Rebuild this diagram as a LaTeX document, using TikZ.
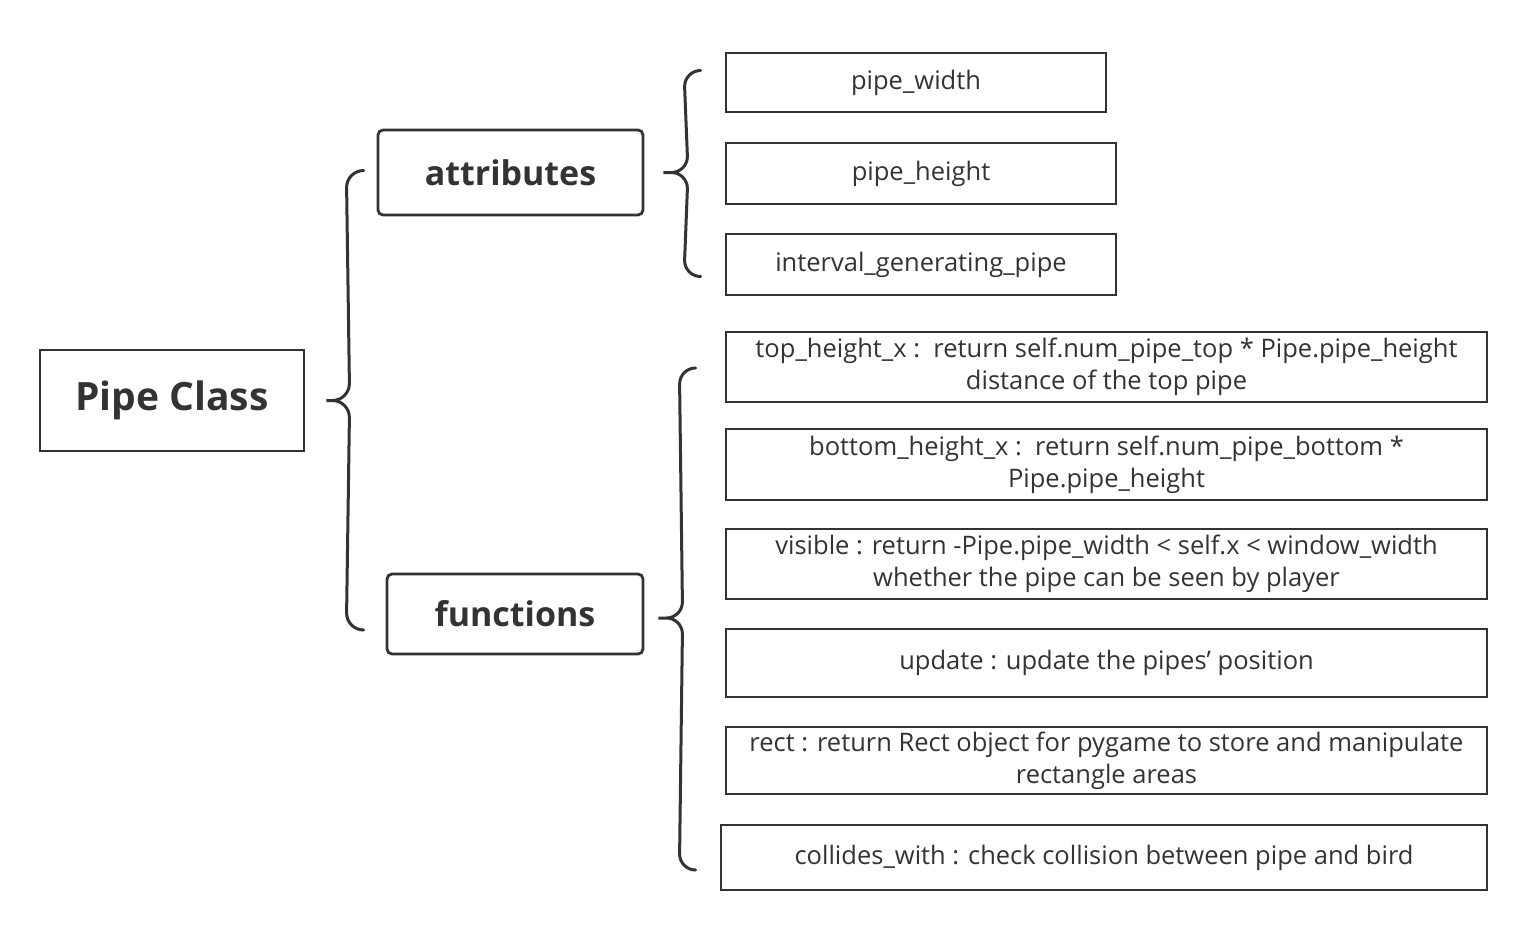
\documentclass[tikz,border=0pt]{standalone}
\usepackage{fontspec}
\setmainfont{Open Sans}
\usetikzlibrary{calc}
\definecolor{ink}{HTML}{333333}
\tikzset{
  leaf/.style={draw=ink, line width=2.8pt, text=ink, align=center, inner sep=0pt,
    font=\fontsize{25.5}{32}\selectfont},
  head/.style={draw=ink, line width=2.8pt, text=ink, inner sep=0pt, rounded corners=5pt,
    font=\fontsize{34}{40}\selectfont\bfseries},
  brace/.style={draw=ink, line width=3pt, line cap=round}
}
\begin{document}
\begin{tikzpicture}[x=1pt,y=-1pt]
  \useasboundingbox (0,0) rectangle (1514,942);
  % root and the two groups
  \node[head, rounded corners=0pt, minimum width=264pt, minimum height=101pt,
    font=\fontsize{39}{44}\selectfont\bfseries] (pipe) at (172,400.5) {Pipe Class};
  \node[head, minimum width=265pt, minimum height=85pt] (attr) at (510.5,172.5) {attributes};
  \node[head, minimum width=256pt, minimum height=80pt] (func) at (515,614) {functions};
  % attributes
  \node[leaf, minimum width=380pt, minimum height=59pt] (pw) at (916,82.5) {pipe\_width};
  \node[leaf, minimum width=390pt, minimum height=61pt] (ph) at (921,173.5) {pipe\_height};
  \node[leaf, minimum width=390pt, minimum height=61pt] (igp) at (921,264.5) {interval\_generating\_pipe};
  % functions
  \node[leaf, minimum width=761pt, minimum height=70pt] (top) at (1106.5,367)
    {top\_height\_x :\ \ return self.num\_pipe\_top * Pipe.pipe\_height\\distance of the top pipe};
  \node[leaf, minimum width=761pt, minimum height=71pt] (bot) at (1106.5,464.5)
    {bottom\_height\_x :\ \ return self.num\_pipe\_bottom *\\Pipe.pipe\_height};
  \node[leaf, minimum width=761pt, minimum height=70pt] (vis) at (1106.5,564)
    {visible : return -Pipe.pipe\_width < self.x < window\_width\\whether the pipe can be seen by player};
  \node[leaf, minimum width=761pt, minimum height=68pt] (upd) at (1106.5,663)
    {update : update the pipes' position};
  \node[leaf, minimum width=761pt, minimum height=67pt] (rect) at (1106.5,760.5)
    {rect : return Rect object for pygame to store and manipulate\\rectangle areas};
  \node[leaf, minimum width=766pt, minimum height=65pt] (col) at (1104,857.5)
    {collides\_with : check collision between pipe and bird};
  % brace ends
  \coordinate (t1) at ($(pipe.east)+(21,0)$);
  \coordinate (a1) at ($(attr.west)+(-13,-2)$);
  \coordinate (z1) at ($(func.west)+(-22,16)$);
  \coordinate (t2) at ($(attr.east)+(19,0)$);
  \coordinate (a2) at ($(pw.west)+(-24,-12)$);
  \coordinate (z2) at ($(igp.west)+(-24,12)$);
  \coordinate (t3) at ($(func.east)+(14,4)$);
  \coordinate (a3) at ($(top.west)+(-29,1)$);
  \coordinate (z3) at ($(col.west)+(-24,12.5)$);
  % braces
  \draw[brace] (a1) to[out=180,in=90] ++(-17,17) -- ($(t1)+(23,-17)$) to[out=-90,in=0] ($(t1)+(6,0)$) -- (t1)
    -- ++(6,0) to[out=0,in=90] ++(17,17) -- ($(z1)+(-17,-17)$) to[out=-90,in=180] (z1);
  \draw[brace] (a2) to[out=180,in=90] ++(-16,16) -- ($(t2)+(24,-16)$) to[out=-90,in=0] ($(t2)+(8,0)$) -- (t2)
    -- ++(8,0) to[out=0,in=90] ++(16,16) -- ($(z2)+(-16,-16)$) to[out=-90,in=180] (z2);
  \draw[brace] (a3) to[out=180,in=90] ++(-16,16) -- ($(t3)+(24,-16)$) to[out=-90,in=0] ($(t3)+(8,0)$) -- (t3)
    -- ++(8,0) to[out=0,in=90] ++(16,16) -- ($(z3)+(-16,-16)$) to[out=-90,in=180] (z3);
\end{tikzpicture}
\end{document}
